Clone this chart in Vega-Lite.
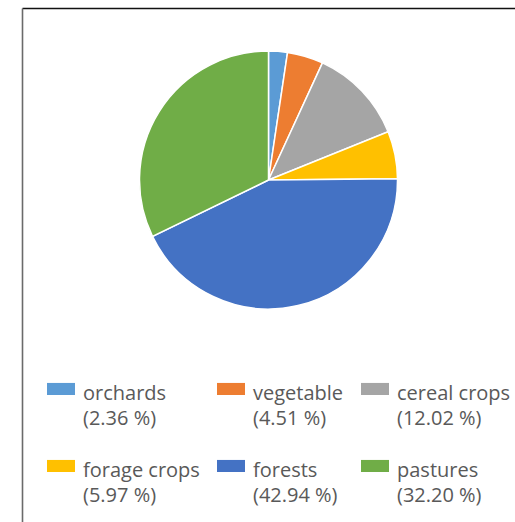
{
  "$schema": "https://vega.github.io/schema/vega-lite/v6.json",
  "width": 493,
  "height": 514,
  "autosize": "none",
  "padding": {"left": 22, "top": 8, "right": 0, "bottom": 0},
  "background": "white",
  "view": {"stroke": "transparent", "strokeWidth": 0, "fill": "transparent"},
  "data": {
    "values": [
      {"category": "orchards", "share": 2.36, "order": 1},
      {"category": "vegetable", "share": 4.51, "order": 2},
      {"category": "cereal crops", "share": 12.02, "order": 3},
      {"category": "forage crops", "share": 5.97, "order": 4},
      {"category": "forests", "share": 42.94, "order": 5},
      {"category": "pastures", "share": 32.2, "order": 6}
    ]
  },
  "transform": [
    {"calculate": "datum.category + '|(' + format(datum.share, '.2f') + ' %)'", "as": "label"}
  ],
  "mark": {"type": "arc", "outerRadius": 129, "stroke": "white", "strokeWidth": 1.5},
  "encoding": {
    "theta": {"field": "share", "type": "quantitative", "stack": true},
    "order": {"field": "order", "type": "quantitative"},
    "x": {
      "datum": 0,
      "type": "quantitative",
      "scale": {"domain": [-1, 1], "nice": false, "zero": false},
      "axis": {"orient": "top", "domain": true, "domainColor": "#111", "domainWidth": 1.4, "ticks": false, "labels": false, "grid": false, "title": null}
    },
    "y": {
      "datum": 0,
      "type": "quantitative",
      "scale": {"domain": [-342, 172], "nice": false, "zero": false},
      "axis": {"orient": "left", "domain": true, "domainColor": "#6a6a6a", "domainWidth": 1.6, "ticks": false, "labels": false, "grid": false, "title": null}
    },
    "color": {
      "field": "label",
      "type": "nominal",
      "sort": {"field": "order", "op": "min"},
      "scale": {"range": ["#5B9BD5", "#ED7D31", "#A5A5A5", "#FFC000", "#4472C4", "#70AD47"]},
      "legend": {
        "orient": "none",
        "direction": "horizontal",
        "legendX": 25,
        "legendY": 372,
        "columns": 3,
        "title": null,
        "labelExpr": "split(datum.label, '|')",
        "symbolType": "M-1,-0.79H1V0.07H-1Z",
        "symbolSize": 784,
        "symbolStrokeWidth": 0,
        "symbolOpacity": 1,
        "labelFont": "Open Sans",
        "labelFontSize": 20,
        "labelColor": "#595959",
        "labelOffset": 8,
        "columnPadding": 17,
        "rowPadding": 28
      }
    }
  },
  "config": {
    "view": {"stroke": "transparent"},
    "style": {"cell": {"stroke": "transparent"}, "guide-label": {"lineHeight": 25}}
  }
}
